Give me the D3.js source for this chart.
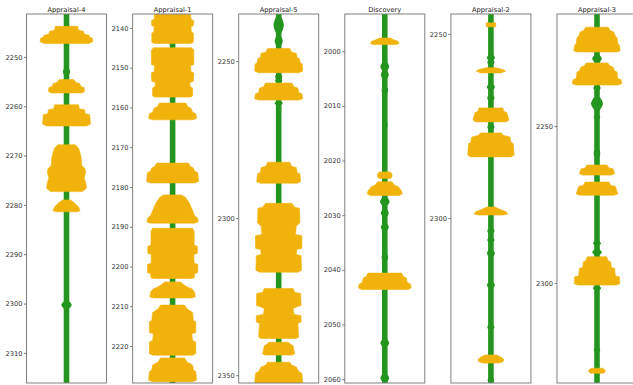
<!DOCTYPE html>
<html>
<head>
<meta charset="utf-8">
<script src="https://cdn.jsdelivr.net/npm/d3@7/dist/d3.min.js"></script>
<style>
  html, body { margin: 0; padding: 0; background: #fff; }
  svg { display: block; }
  .tick text { font-family: "DejaVu Sans", sans-serif; font-size: 6.7px; fill: #333; }
  .tick line { stroke: #777; }
  .title { font-family: "DejaVu Sans", sans-serif; font-size: 6.7px; fill: #222; }
</style>
</head>
<body>
<svg id="chart" width="633" height="385"></svg>
<script>
// Well names, in panel order
const wells = ["Appraisal-4", "Appraisal-1", "Appraisal-5", "Discovery", "Appraisal-2", "Appraisal-3"];

// Depth window shown for each well (m)
const depthTop  = [2241.3, 2136.5, 2235.0, 1993.2, 2244.6, 2214.3];
const depthBase = [2316.1, 2229.3, 2352.5, 2060.7, 2344.8, 2331.8];
const tickStep  = [10, 10, 50, 10, 50, 50];

// Shale baseline half-width (sand index units)
const shaleBase = 0.07;

// Sand beds: each bed is a list of [depth, sand index] knots, drawn mirrored
const sandA4 = [
  [[2243.8,.28],[2244.6,.30],[2244.8,.42],[2245.4,.45],[2245.6,.56],[2246.0,.58],[2246.2,.65],[2246.9,.66],[2247.3,.55]],
  [[2254.6,.18],[2255.2,.24],[2255.4,.33],[2256.0,.36],[2256.2,.44],[2257.0,.45],[2257.3,.38]],
  [[2259.7,.30],[2260.5,.32],[2260.7,.45],[2261.5,.47],[2261.7,.58],[2263.6,.60],[2264.0,.50]],
  [[2267.8,.22],[2268.5,.30],[2269.5,.34],[2270.5,.37],[2272.0,.38],[2272.6,.46],[2273.5,.48],[2274.5,.44],[2275.5,.48],[2276.6,.50],[2277.3,.40]],
  [[2279.0,.10],[2279.6,.20],[2280.4,.30],[2281.2,.34],[2281.4,.25]]
];
const sandA1 = [
  [[2136.4,.45],[2137.8,.46],[2138.2,.53],[2139.4,.52],[2139.7,.46],[2141.0,.47],[2141.3,.52],[2143.6,.52],[2143.9,.45]],
  [[2145.0,.48],[2145.6,.53],[2149.2,.53],[2149.5,.45],[2151.0,.46],[2151.3,.53],[2153.4,.52],[2153.7,.43],[2154.8,.44],[2155.1,.50],[2157.1,.50],[2157.4,.44]],
  [[2158.9,.33],[2159.8,.38],[2160.2,.46],[2161.2,.50],[2161.6,.58],[2162.8,.60],[2163.1,.50]],
  [[2174.0,.40],[2174.8,.44],[2175.2,.52],[2176.0,.55],[2176.4,.63],[2178.6,.65],[2179.0,.55]],
  [[2182.0,.22],[2182.6,.32],[2184.1,.42],[2186.0,.50],[2187.2,.55],[2187.9,.63],[2188.8,.64],[2189.1,.55]],
  [[2190.4,.50],[2191.2,.54],[2194.6,.54],[2194.9,.62],[2196.7,.62],[2197.0,.53],[2199.2,.54],[2199.5,.63],[2201.5,.63],[2201.8,.55],[2202.8,.54],[2203.0,.48]],
  [[2203.9,.20],[2204.6,.28],[2205.2,.38],[2205.6,.48],[2206.4,.55],[2207.6,.57],[2207.9,.48]],
  [[2209.7,.30],[2210.6,.36],[2211.6,.50],[2213.6,.52],[2213.9,.58],[2216.6,.58],[2216.9,.48],[2218.6,.50],[2219.0,.58],[2221.9,.58],[2222.3,.50]],
  [[2223.0,.30],[2224.0,.36],[2224.8,.50],[2226.0,.52],[2226.4,.58],[2228.6,.60],[2229.0,.50]]
];
const sandA5 = [
  [[2246.0,.28],[2247.2,.32],[2247.5,.44],[2248.9,.46],[2249.2,.52],[2250.6,.54],[2250.9,.59],[2253.2,.60],[2253.7,.50]],
  [[2257.0,.33],[2258.2,.38],[2258.6,.48],[2260.0,.50],[2260.4,.58],[2262.0,.60],[2262.4,.50]],
  [[2282.2,.28],[2283.5,.32],[2283.9,.44],[2285.5,.46],[2285.9,.53],[2288.4,.55],[2288.9,.46]],
  [[2295.3,.33],[2296.5,.40],[2296.9,.52],[2301.5,.53],[2302.5,.44],[2305.2,.42],[2305.6,.58],[2309.6,.58],[2310.0,.45],[2311.6,.44],[2312.0,.56],[2316.6,.57],[2317.2,.48]],
  [[2322.4,.36],[2323.6,.40],[2324.0,.55],[2327.8,.56],[2328.2,.46],[2328.8,.36],[2330.6,.38],[2331.1,.56],[2333.1,.56],[2333.5,.48],[2337.9,.50],[2338.3,.44]],
  [[2339.5,.24],[2340.2,.30],[2340.6,.36],[2342.0,.38],[2343.2,.40],[2343.6,.34]],
  [[2345.9,.28],[2346.8,.32],[2347.4,.44],[2348.8,.50],[2349.4,.58],[2352.6,.60]]
];
const sandDisc = [
  [[1997.6,.14],[1997.9,.22],[1998.2,.33],[1998.6,.36],[1998.8,.28]],
  [[2022.1,.14],[2022.5,.18],[2023.0,.18],[2023.3,.14]],
  [[2023.9,.18],[2024.5,.24],[2024.8,.34],[2025.6,.42],[2026.1,.44],[2026.4,.36]],
  [[2040.6,.42],[2041.2,.46],[2041.5,.54],[2042.3,.56],[2042.6,.64],[2043.3,.66],[2043.6,.58]]
];
const sandA2 = [
  [[2247.0,.12],[2248.1,.12]],
  [[2259.2,.12],[2259.7,.30],[2260.1,.37],[2260.6,.25]],
  [[2270.1,.30],[2271.0,.32],[2271.4,.40],[2273.4,.45],[2273.9,.38]],
  [[2276.9,.26],[2277.6,.32],[2278.0,.48],[2279.4,.50],[2279.8,.56],[2282.9,.58],[2283.4,.50]],
  [[2297.0,.10],[2297.6,.22],[2298.3,.38],[2298.9,.42],[2299.2,.30]],
  [[2337.2,.14],[2337.8,.26],[2338.5,.33],[2339.0,.30],[2339.4,.20]]
];
const sandA3 = [
  [[2218.5,.28],[2219.6,.34],[2220.0,.42],[2221.4,.46],[2221.8,.50],[2223.8,.52],[2224.2,.56],[2226.0,.58],[2226.4,.50]],
  [[2229.9,.27],[2230.8,.32],[2231.2,.40],[2232.4,.44],[2232.8,.50],[2234.8,.52],[2235.2,.60],[2236.5,.62],[2236.9,.52]],
  [[2262.4,.25],[2263.3,.30],[2263.6,.40],[2265.2,.44],[2265.6,.36]],
  [[2267.8,.30],[2268.8,.34],[2269.2,.46],[2271.6,.52],[2272.0,.42]],
  [[2291.6,.24],[2292.9,.28],[2293.2,.34],[2295.0,.36],[2295.3,.44],[2297.7,.46],[2298.0,.56],[2300.2,.57],[2300.6,.48]],
  [[2327.1,.14],[2327.6,.20],[2328.2,.21],[2328.7,.16]]
];

// Shale bulges: [centre depth, sand index, thickness (m)]
const bulgeA4 = [[2253.0,.09,1.0],[2300.3,.13,1.4]];
const bulgeA1 = [];
const bulgeA5 = [[2238.5,.13,5.0],[2243.6,.10,2.6],[2255.0,.09,1.2],[2256.2,.09,1.0],[2263.4,.10,1.0]];
const bulgeDisc = [[2002.8,.11,1.4],[2004.3,.10,1.2],[2007.2,.08,0.9],[2013.5,.07,0.8],[2027.5,.12,1.4],[2029.6,.10,1.0],[2032.2,.10,1.0],[2037.7,.08,0.9],[2053.4,.11,1.2],[2059.8,.11,1.2]];
const bulgeA2 = [[2256.5,.10,1.2],[2257.7,.09,1.0],[2264.4,.10,1.2],[2267.4,.09,1.2],[2275.3,.09,1.0],[2303.5,.09,1.0],[2306.0,.09,1.0],[2309.6,.10,1.4],[2318.2,.10,1.2],[2329.6,.09,1.0],[2344.0,.08,1.0]];
const bulgeA3 = [[2228.5,.12,2.2],[2237.9,.09,1.2],[2242.8,.15,4.2],[2247.1,.08,1.0],[2258.7,.08,2.0],[2287.3,.10,1.0],[2290.2,.12,1.6],[2301.6,.10,1.0],[2321.3,.08,1.0]];

const sands  = [sandA4, sandA1, sandA5, sandDisc, sandA2, sandA3];
const bulges = [bulgeA4, bulgeA1, bulgeA5, bulgeDisc, bulgeA2, bulgeA3];

const sandColor  = "#f1b30b";
const shaleColor = "#24961f";

const svg = d3.select("#chart");
const panelTop = 14, panelBottom = 383, panelW = 80;
const panelLeft = i => 26.5 + i * 106.1;

wells.forEach((name, i) => {
  const g = svg.append("g").attr("transform", `translate(${panelLeft(i)},${panelTop})`);
  const h = panelBottom - panelTop;
  const x = d3.scaleLinear().domain([-1, 1]).range([0, panelW]);
  const y = d3.scaleLinear().domain([depthTop[i], depthBase[i]]).range([0, h]);

  const clipId = "clip" + i;
  g.append("clipPath").attr("id", clipId)
    .append("rect").attr("width", panelW).attr("height", h);
  const plot = g.append("g").attr("clip-path", `url(#${clipId})`);

  const area = d3.area()
    .y(d => y(d[0]))
    .x0(d => x(-d[1]))
    .x1(d => x(d[1]));

  // shale baseline
  plot.append("path")
    .datum([[depthTop[i], shaleBase], [depthBase[i], shaleBase]])
    .attr("fill", shaleColor)
    .attr("d", area);

  // shale bulges
  const lens = area.curve(d3.curveCatmullRom);
  plot.selectAll("path.bulge")
    .data(bulges[i])
    .join("path")
    .attr("class", "bulge")
    .attr("fill", shaleColor)
    .attr("d", b => lens([[b[0] - b[2] / 2, shaleBase], [b[0], b[1]], [b[0] + b[2] / 2, shaleBase]]));

  // sand beds
  const bedArea = d3.area()
    .y(d => y(d[0]))
    .x0(d => x(-d[1]))
    .x1(d => x(d[1]))
    .curve(d3.curveLinear);
  plot.selectAll("path.sand")
    .data(sands[i])
    .join("path")
    .attr("class", "sand")
    .attr("fill", sandColor)
    .attr("stroke", sandColor)
    .attr("stroke-width", 0.6)
    .attr("d", bedArea);

  // frame
  g.append("rect")
    .attr("width", panelW).attr("height", h)
    .attr("fill", "none").attr("stroke", "#808080").attr("stroke-width", 1);

  // depth axis
  const first = Math.ceil(depthTop[i] / tickStep[i]) * tickStep[i];
  const ticks = d3.range(first, depthBase[i], tickStep[i]);
  const axis = g.append("g")
    .call(d3.axisLeft(y).tickValues(ticks).tickSize(2.5).tickPadding(1.5).tickFormat(d3.format("d")));
  axis.select(".domain").remove();

  // title
  g.append("text")
    .attr("class", "title")
    .attr("x", panelW / 2).attr("y", -2.5)
    .attr("text-anchor", "middle")
    .text(name);
});
</script>
</body>
</html>
